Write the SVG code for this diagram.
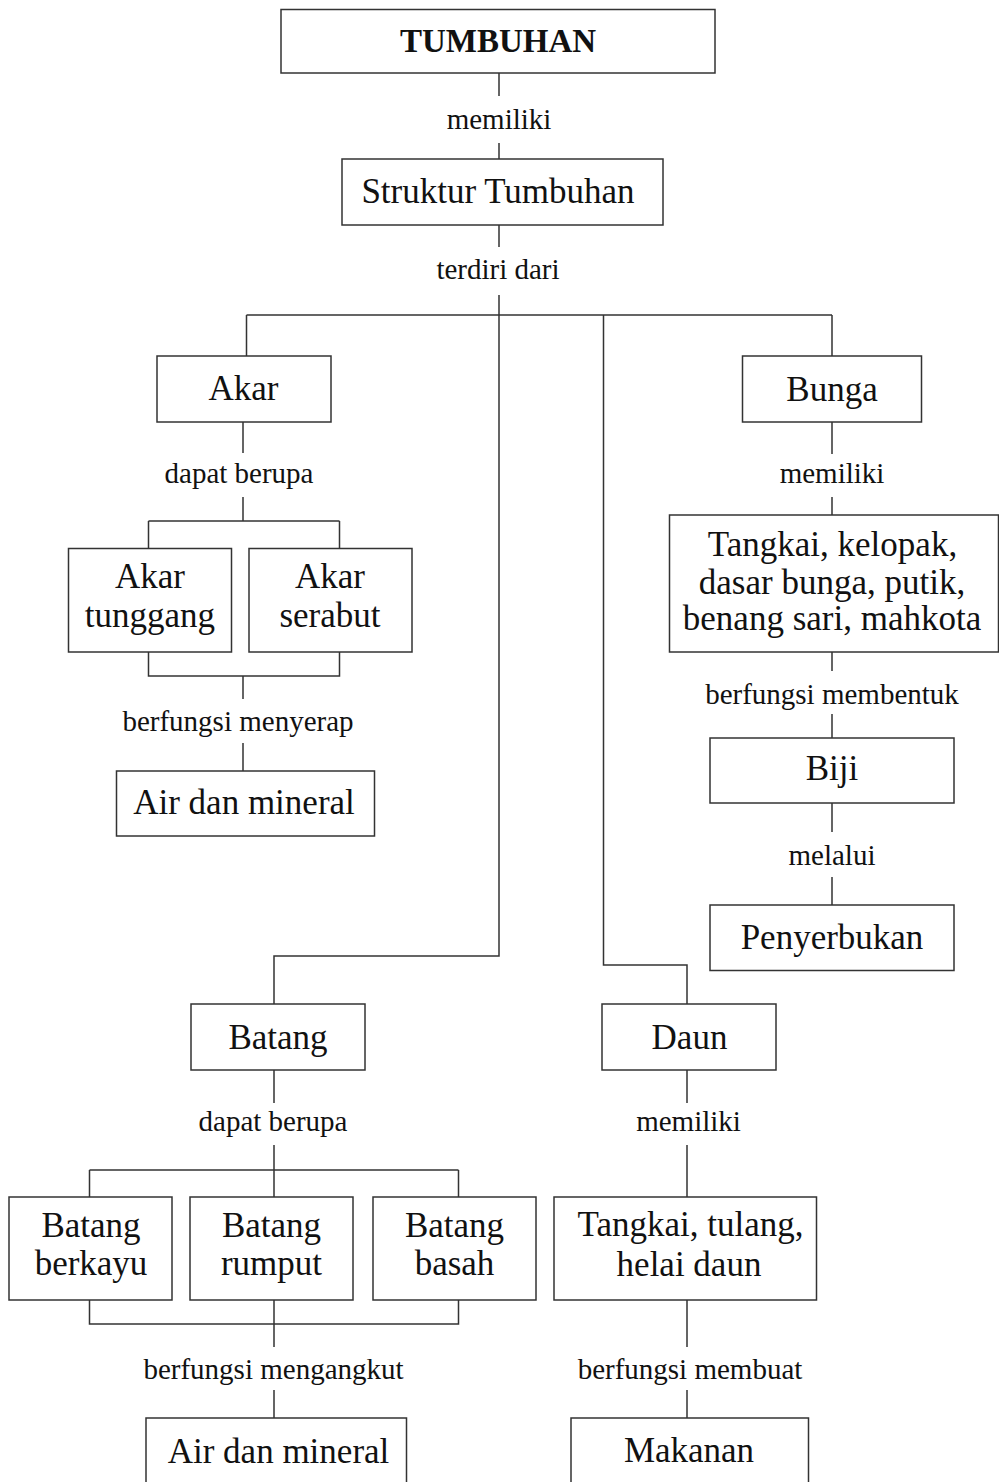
<svg xmlns="http://www.w3.org/2000/svg" width="999" height="1482" viewBox="0 0 999 1482">
<style>
.box{fill:#fff;stroke:#333;stroke-width:1.5}
.n{font-family:"Liberation Serif","Times New Roman",serif;font-size:35px;fill:#111;text-anchor:middle}
.t{font-family:"Liberation Serif","Times New Roman",serif;font-size:33px;font-weight:bold;fill:#111;text-anchor:middle}
.l{font-family:"Liberation Serif","Times New Roman",serif;font-size:29px;fill:#111;text-anchor:middle}
.c{fill:none;stroke:#333;stroke-width:1.5}
</style>
<rect width="999" height="1482" fill="#fff"/>
<g id="connectors" class="c">
<path d="M499 73V96M499 143V159M499 225V247M499 295V956H274V1004"/>
<path d="M246.5 315H832M246.5 315V356M832 315V356M603.5 315V965H687V1004"/>
<path d="M243 422V453M243 497V521M148.5 521H339.5M148.5 521V548M339.5 521V548M148.5 652V676H339.5V652M243 676V699M243 743V771"/>
<path d="M832 422V454M832 497V515M832 652V671M832 714V738M832 803V832M832 877V905"/>
<path d="M274 1070V1103M274 1145V1197M89.5 1170H458.5M89.5 1170V1197M458.5 1170V1197M89.5 1300V1324H458.5V1300M274 1300V1347M274 1390V1418"/>
<path d="M687 1070V1103M687 1145V1197M687 1300V1347M687 1390V1418"/>
</g>
<g id="tumbuhan"><rect class="box" x="281" y="9.5" width="434" height="63.5"/><text class="t" x="498" y="52">TUMBUHAN</text></g>
<g id="lbl-memiliki-1"><text class="l" x="499" y="129">memiliki</text></g>
<g id="struktur"><rect class="box" x="342" y="159" width="321" height="66"/><text class="n" x="498" y="203">Struktur Tumbuhan</text></g>
<g id="lbl-terdiri"><text class="l" x="498" y="279">terdiri dari</text></g>
<g id="akar"><rect class="box" x="157" y="356" width="174" height="66"/><text class="n" x="243.5" y="400">Akar</text></g>
<g id="lbl-dapat-1"><text class="l" x="239" y="483">dapat berupa</text></g>
<g id="akar-tunggang"><rect class="box" x="68.5" y="548.5" width="163" height="103.5"/><text class="n" x="150" y="588">Akar</text><text class="n" x="150" y="626.5">tunggang</text></g>
<g id="akar-serabut"><rect class="box" x="249" y="548.5" width="163" height="103.5"/><text class="n" x="330" y="588">Akar</text><text class="n" x="330" y="626.5">serabut</text></g>
<g id="lbl-menyerap"><text class="l" x="238" y="731">berfungsi menyerap</text></g>
<g id="air-mineral-1"><rect class="box" x="116.5" y="771" width="258" height="65"/><text class="n" x="244" y="814">Air dan mineral</text></g>
<g id="bunga"><rect class="box" x="742.5" y="356" width="179" height="66"/><text class="n" x="832" y="401">Bunga</text></g>
<g id="lbl-memiliki-2"><text class="l" x="832" y="483">memiliki</text></g>
<g id="bagian-bunga"><rect class="box" x="669.5" y="515" width="329" height="137"/><text class="n" x="832.5" y="556">Tangkai, kelopak,</text><text class="n" x="832" y="594">dasar bunga, putik,</text><text class="n" x="832" y="630">benang sari, mahkota</text></g>
<g id="lbl-membentuk"><text class="l" x="832" y="704">berfungsi membentuk</text></g>
<g id="biji"><rect class="box" x="710" y="738" width="244" height="65"/><text class="n" x="832" y="780">Biji</text></g>
<g id="lbl-melalui"><text class="l" x="832" y="865">melalui</text></g>
<g id="penyerbukan"><rect class="box" x="710" y="905" width="244" height="65.5"/><text class="n" x="832" y="949">Penyerbukan</text></g>
<g id="batang"><rect class="box" x="191" y="1004" width="174" height="66"/><text class="n" x="278" y="1049">Batang</text></g>
<g id="lbl-dapat-2"><text class="l" x="273" y="1131">dapat berupa</text></g>
<g id="daun"><rect class="box" x="602" y="1004" width="174" height="66"/><text class="n" x="689.5" y="1049">Daun</text></g>
<g id="lbl-memiliki-3"><text class="l" x="688.5" y="1131">memiliki</text></g>
<g id="batang-berkayu"><rect class="box" x="9" y="1197" width="163" height="103"/><text class="n" x="91" y="1237">Batang</text><text class="n" x="91" y="1275">berkayu</text></g>
<g id="batang-rumput"><rect class="box" x="190" y="1197" width="163" height="103"/><text class="n" x="271.5" y="1237">Batang</text><text class="n" x="271.5" y="1275">rumput</text></g>
<g id="batang-basah"><rect class="box" x="373" y="1197" width="163" height="103"/><text class="n" x="454.5" y="1237">Batang</text><text class="n" x="454.5" y="1275">basah</text></g>
<g id="lbl-mengangkut"><text class="l" x="273.5" y="1379">berfungsi mengangkut</text></g>
<g id="air-mineral-2"><rect class="box" x="146" y="1418" width="260.5" height="80"/><text class="n" x="278.5" y="1463">Air dan mineral</text></g>
<g id="bagian-daun"><rect class="box" x="554" y="1197" width="262.5" height="103"/><text class="n" x="690.5" y="1236">Tangkai, tulang,</text><text class="n" x="689" y="1276">helai daun</text></g>
<g id="lbl-membuat"><text class="l" x="690" y="1379">berfungsi membuat</text></g>
<g id="makanan"><rect class="box" x="571" y="1418" width="237.5" height="80"/><text class="n" x="689" y="1462">Makanan</text></g>
</svg>
